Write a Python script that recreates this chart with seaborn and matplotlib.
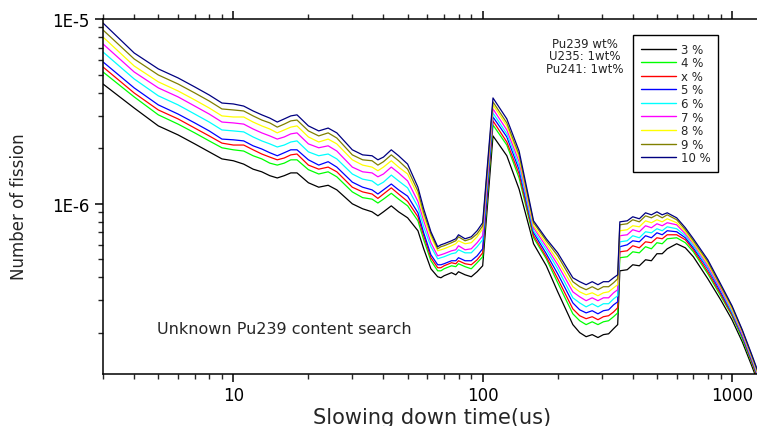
import numpy as np
import pandas as pd
import matplotlib
matplotlib.use("Agg")
import matplotlib.pyplot as plt
import matplotlib.ticker as mticker
import seaborn as sns

# ---------------- data ----------------
slowing_time_us = [3, 4, 5, 6, 7, 8, 9, 10, 11, 12, 13, 14, 15, 16, 17, 18, 20, 22, 24, 26,
                   30, 33, 36, 38, 40, 43, 46, 50, 55, 58, 62, 66, 68, 70, 75, 78, 80, 85, 90, 95,
                   100, 110, 125, 140, 160, 180, 200, 230, 245, 260, 275, 290, 305, 320, 335, 348,
                   355, 380, 400, 425, 450, 475, 500, 525, 550, 600, 650, 700, 800, 900, 1000,
                   1100, 1200, 1300]

# number of fission, in units of 1E-6
fission_3pct = [4.45, 3.30, 2.64, 2.36, 2.11, 1.91, 1.75, 1.71, 1.64, 1.54,
                1.49, 1.42, 1.38, 1.42, 1.47, 1.47, 1.30, 1.23, 1.26, 1.19,
                1.00, 0.940, 0.905, 0.861, 0.905, 0.975, 0.905, 0.840, 0.715, 0.571,
                0.445, 0.403, 0.398, 0.408, 0.424, 0.413, 0.429, 0.413, 0.403, 0.429,
                0.462, 2.33, 1.82, 1.20, 0.608, 0.462, 0.334, 0.222, 0.201, 0.191,
                0.196, 0.189, 0.196, 0.198, 0.211, 0.222, 0.434, 0.440, 0.468, 0.462,
                0.498, 0.492, 0.537, 0.537, 0.571, 0.608, 0.578, 0.517, 0.393, 0.303,
                0.236, 0.179, 0.133, 0.100]
fission_4pct = [5.17, 3.79, 3.03, 2.70, 2.42, 2.19, 2.01, 1.96, 1.93, 1.82,
                1.75, 1.66, 1.62, 1.66, 1.73, 1.73, 1.53, 1.45, 1.49, 1.40,
                1.16, 1.08, 1.06, 1.01, 1.06, 1.14, 1.06, 0.975, 0.809, 0.639,
                0.492, 0.434, 0.434, 0.445, 0.462, 0.457, 0.474, 0.457, 0.445, 0.480,
                0.517, 2.67, 2.08, 1.38, 0.655, 0.504, 0.374, 0.254, 0.233, 0.222,
                0.230, 0.222, 0.230, 0.233, 0.245, 0.257, 0.511, 0.517, 0.550, 0.543,
                0.586, 0.571, 0.616, 0.608, 0.647, 0.655, 0.616, 0.550, 0.418, 0.318,
                0.248, 0.186, 0.138, 0.103]
fission_xpct = [5.50, 3.98, 3.22, 2.88, 2.57, 2.33, 2.13, 2.08, 2.08, 1.96,
                1.86, 1.79, 1.73, 1.77, 1.84, 1.86, 1.62, 1.54, 1.58, 1.49,
                1.23, 1.16, 1.13, 1.07, 1.13, 1.22, 1.13, 1.03, 0.851, 0.672,
                0.511, 0.451, 0.451, 0.462, 0.480, 0.474, 0.492, 0.474, 0.468, 0.498,
                0.543, 2.81, 2.16, 1.45, 0.672, 0.517, 0.393, 0.270, 0.248, 0.239,
                0.245, 0.236, 0.245, 0.248, 0.260, 0.274, 0.550, 0.557, 0.593, 0.578,
                0.623, 0.616, 0.655, 0.647, 0.680, 0.680, 0.639, 0.564, 0.429, 0.326,
                0.251, 0.191, 0.140, 0.104]
fission_5pct = [5.86, 4.24, 3.43, 3.06, 2.74, 2.48, 2.24, 2.22, 2.19, 2.06,
                1.98, 1.89, 1.82, 1.89, 1.96, 1.96, 1.73, 1.62, 1.69, 1.58,
                1.31, 1.23, 1.19, 1.13, 1.19, 1.28, 1.19, 1.10, 0.894, 0.697,
                0.530, 0.468, 0.468, 0.474, 0.492, 0.492, 0.511, 0.492, 0.492, 0.523,
                0.571, 2.95, 2.30, 1.53, 0.697, 0.537, 0.418, 0.291, 0.267, 0.257,
                0.264, 0.254, 0.264, 0.267, 0.284, 0.295, 0.586, 0.600, 0.631, 0.623,
                0.672, 0.655, 0.697, 0.680, 0.715, 0.706, 0.655, 0.578, 0.445, 0.334,
                0.257, 0.193, 0.143, 0.107]
fission_6pct = [6.63, 4.74, 3.84, 3.43, 3.06, 2.77, 2.51, 2.48, 2.45, 2.30,
                2.19, 2.11, 2.03, 2.08, 2.16, 2.19, 1.91, 1.82, 1.86, 1.75,
                1.45, 1.36, 1.33, 1.26, 1.31, 1.43, 1.33, 1.22, 0.963, 0.751,
                0.586, 0.504, 0.511, 0.517, 0.537, 0.543, 0.564, 0.543, 0.543, 0.586,
                0.639, 3.10, 2.39, 1.60, 0.715, 0.564, 0.445, 0.310, 0.291, 0.277,
                0.288, 0.277, 0.288, 0.288, 0.306, 0.318, 0.623, 0.631, 0.672, 0.655,
                0.706, 0.697, 0.733, 0.715, 0.751, 0.733, 0.672, 0.593, 0.451, 0.343,
                0.260, 0.196, 0.145, 0.108]
fission_7pct = [7.33, 5.17, 4.24, 3.79, 3.38, 3.06, 2.77, 2.74, 2.70, 2.54,
                2.42, 2.33, 2.24, 2.30, 2.39, 2.42, 2.11, 2.01, 2.06, 1.93,
                1.58, 1.49, 1.47, 1.40, 1.45, 1.58, 1.47, 1.33, 1.03, 0.809,
                0.616, 0.523, 0.530, 0.537, 0.557, 0.564, 0.593, 0.564, 0.571, 0.616,
                0.672, 3.26, 2.51, 1.69, 0.742, 0.586, 0.468, 0.334, 0.314, 0.299,
                0.310, 0.299, 0.310, 0.310, 0.330, 0.343, 0.672, 0.680, 0.724, 0.706,
                0.761, 0.742, 0.780, 0.761, 0.790, 0.770, 0.688, 0.608, 0.462, 0.347,
                0.267, 0.198, 0.147, 0.110]
fission_8pct = [7.99, 5.57, 4.57, 4.08, 3.65, 3.30, 2.99, 2.95, 2.95, 2.77,
                2.64, 2.54, 2.42, 2.51, 2.60, 2.64, 2.30, 2.16, 2.24, 2.11,
                1.73, 1.62, 1.58, 1.51, 1.58, 1.71, 1.58, 1.45, 1.11, 0.851,
                0.663, 0.557, 0.564, 0.571, 0.593, 0.608, 0.631, 0.608, 0.616, 0.663,
                0.733, 3.43, 2.64, 1.77, 0.761, 0.608, 0.492, 0.356, 0.334, 0.322,
                0.330, 0.318, 0.330, 0.334, 0.351, 0.365, 0.715, 0.724, 0.761, 0.751,
                0.809, 0.790, 0.820, 0.799, 0.830, 0.790, 0.706, 0.616, 0.474, 0.356,
                0.270, 0.203, 0.149, 0.111]
fission_9pct = [8.72, 6.08, 4.98, 4.45, 3.98, 3.60, 3.26, 3.22, 3.18, 2.99,
                2.84, 2.74, 2.60, 2.70, 2.81, 2.84, 2.48, 2.33, 2.42, 2.27,
                1.84, 1.73, 1.71, 1.62, 1.69, 1.84, 1.71, 1.54, 1.17, 0.894,
                0.688, 0.571, 0.586, 0.593, 0.616, 0.631, 0.663, 0.631, 0.647, 0.688,
                0.761, 3.56, 2.74, 1.84, 0.790, 0.631, 0.523, 0.379, 0.356, 0.343,
                0.356, 0.343, 0.356, 0.356, 0.374, 0.393, 0.770, 0.780, 0.820, 0.799,
                0.861, 0.840, 0.872, 0.840, 0.872, 0.820, 0.724, 0.631, 0.486, 0.360,
                0.277, 0.206, 0.151, 0.113]
fission_10pct = [9.51, 6.55, 5.37, 4.80, 4.29, 3.88, 3.51, 3.47, 3.38, 3.18,
                 3.03, 2.91, 2.77, 2.88, 2.99, 3.03, 2.64, 2.48, 2.57, 2.42,
                 1.96, 1.84, 1.82, 1.73, 1.79, 1.96, 1.82, 1.64, 1.23, 0.940,
                 0.706, 0.586, 0.600, 0.608, 0.631, 0.647, 0.680, 0.647, 0.663, 0.715,
                 0.790, 3.74, 2.88, 1.93, 0.809, 0.647, 0.543, 0.398, 0.379, 0.365,
                 0.379, 0.365, 0.379, 0.379, 0.398, 0.413, 0.799, 0.809, 0.851, 0.830,
                 0.894, 0.872, 0.905, 0.872, 0.894, 0.840, 0.742, 0.647, 0.498, 0.369,
                 0.281, 0.208, 0.153, 0.114]

series_labels = ["3 %", "4 %", "x %", "5 %", "6 %", "7 %", "8 %", "9 %", "10 %"]
series_values = [fission_3pct, fission_4pct, fission_xpct, fission_5pct, fission_6pct,
                 fission_7pct, fission_8pct, fission_9pct, fission_10pct]
series_colors = ["#000000", "#00ff00", "#ff0000", "#0000ff", "#00ffff",
                 "#ff00ff", "#ffff00", "#808000", "#000080"]
UNIT = 1e-6

x_tick_values = [10, 100, 1000]
x_tick_labels = ["10", "100", "1000"]
y_tick_values = [1e-6, 1e-5]
y_tick_labels = ["1E-6", "1E-5"]

# ---------------- long-form table ----------------
rows = []
for lab, vals in zip(series_labels, series_values):
    for t, v in zip(slowing_time_us, vals):
        rows.append({"time": t, "fission": v * UNIT, "content": lab})
df = pd.DataFrame(rows)

# ---------------- figure ----------------
sns.set_style("ticks")
plt.rcParams["font.family"] = ["DejaVu Sans"]

W, H = 757, 427
fig = plt.figure(figsize=(W / 100, H / 100), dpi=100)
ax = fig.add_axes([103 / W, 52 / H, 654 / W, 355 / H])

sns.lineplot(data=df, x="time", y="fission", hue="content", hue_order=series_labels,
             palette=dict(zip(series_labels, series_colors)), estimator=None, sort=False,
             linewidth=0.9, ax=ax, legend=True)

ax.set_xscale("log")
ax.set_yscale("log")
ax.set_xlim(3, 1260)
ax.set_ylim(1.2e-7, 1e-5)

ax.xaxis.set_major_locator(mticker.FixedLocator(x_tick_values))
ax.xaxis.set_major_formatter(mticker.FixedFormatter(x_tick_labels))
ax.xaxis.set_minor_locator(mticker.LogLocator(base=10, subs=np.arange(2, 10)))
ax.xaxis.set_minor_formatter(mticker.NullFormatter())
ax.yaxis.set_major_locator(mticker.FixedLocator(y_tick_values))
ax.yaxis.set_major_formatter(mticker.FixedFormatter(y_tick_labels))
ax.yaxis.set_minor_locator(mticker.LogLocator(base=10, subs=np.arange(2, 10)))
ax.yaxis.set_minor_formatter(mticker.NullFormatter())

for s in ["left", "bottom", "top"]:
    ax.spines[s].set_linewidth(1.1)
    ax.spines[s].set_color("black")
ax.spines["right"].set_visible(False)

ax.tick_params(axis="both", which="major", direction="out", length=6, width=1.1,
               labelsize=12, colors="black", top=True, right=False, labeltop=False)
ax.tick_params(axis="x", which="major", pad=2.5)
ax.tick_params(axis="both", which="minor", direction="out", length=3.5, width=1.0,
               top=True, right=False)

ax.set_xlabel("Slowing down time(us)", fontsize=15)
ax.set_ylabel("Number of fission", fontsize=12)
ax.xaxis.set_label_coords(0.503, -0.092)
ax.yaxis.set_label_coords(-0.115, 0.473)

handles, labels = ax.get_legend_handles_labels()
leg = ax.legend(handles, labels, loc="upper left",
                bbox_to_anchor=(633 / W, 1 - 36 / H), bbox_transform=fig.transFigure,
                borderaxespad=0, fontsize=8.5, frameon=True, fancybox=False,
                edgecolor="black", framealpha=1, handlelength=3.0, handletextpad=0.4,
                labelspacing=0.05, borderpad=0.65)
leg.get_frame().set_linewidth(1.0)
for ln in leg.get_lines():
    ln.set_linewidth(1.0)

fig.text(585 / W, 1 - 57 / H, "Pu239 wt%\nU235: 1wt%\nPu241: 1wt%", ha="center",
         va="center", multialignment="center", fontsize=8.5, linespacing=0.95)
fig.text(157 / W, 1 - 330 / H, "Unknown Pu239 content search", ha="left", va="center",
         fontsize=11.5)

fig.savefig("out.png", dpi=100)
